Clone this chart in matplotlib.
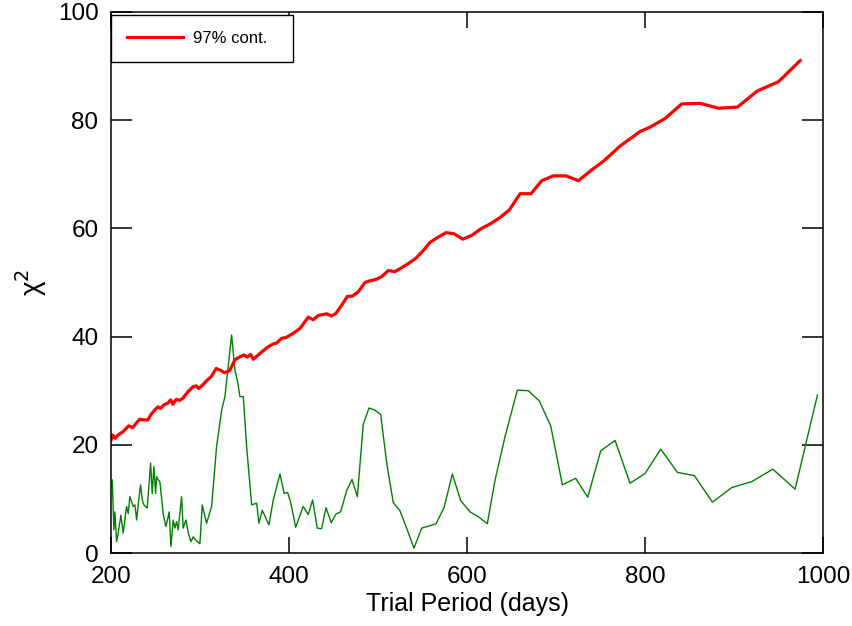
import matplotlib
matplotlib.use('Agg')
import matplotlib.pyplot as plt

plt.rcParams['font.family'] = ['Liberation Sans', 'DejaVu Sans']

# green curve: chi^2 vs trial period
x_green = [201.5, 203.4, 204.5, 206.4, 208.2, 211.2, 213.8, 217.6, 219.5, 221.3,
           223.2, 225, 227, 228.9, 230.7, 233.3, 235.2, 237.1, 239, 240.8,
           244.6, 246.4, 248.3, 250.2, 251.3, 253.2, 255, 258.8, 261.8, 265.5,
           267.4, 270, 271.9, 273.8, 275.6, 279.4, 281.2, 284.3, 286.9, 289.9,
           292.5, 295.2, 300, 302.6, 307.5, 313.1, 318.7, 324.4, 328.1, 335.6,
           339.3, 342.3, 344.9, 348.7, 352.5, 358.1, 363.7, 366.3, 370, 377.5,
           382.4, 389.9, 394.7, 398.5, 402.2, 407.5, 416, 421.7, 426.6, 431.8,
           436.7, 441.6, 447.5, 452.8, 458, 464.8, 470.8, 476.8, 483.5, 489.9,
           496.6, 503, 509.8, 517.2, 524.7, 532.2, 540.4, 549.1, 565.2, 574.2,
           583.5, 592.9, 603.4, 612.7, 622.8, 631.5, 642.7, 656.5, 668.9, 681.2,
           694, 707.1, 722.1, 735.6, 750.2, 766.3, 783.1, 800, 817.6, 836.3,
           855.4, 875.6, 897.4, 919.9, 943.5, 968.5, 993.6]
y_green = [13.5, 4.3, 7.6, 2.1, 3.7, 7, 3.7, 8.6, 7.3, 10.4,
           9.5, 8.6, 8.9, 6.1, 8.9, 12.6, 9.8, 8.9, 8.6, 8.3,
           16.6, 11, 16, 11, 14.1, 13.5, 13.2, 7.2, 4.9, 7.6,
           1.2, 6.1, 4.6, 5.8, 4.3, 10.4, 4.6, 6.1, 3.7, 2.1,
           3.0, 2.4, 1.7, 8.9, 5.5, 8.6, 19.6, 26.4, 28.9, 40.3,
           33.8, 31.7, 28.9, 28.9, 19.6, 8.9, 9.2, 5.5, 7.9, 5.2,
           9.8, 14.6, 11, 11.2, 9.2, 4.75, 8.6, 7.1, 9.8, 4.6,
           4.5, 8.4, 5.6, 7.2, 7.6, 11.5, 13.6, 10.4, 23.8, 26.8,
           26.4, 25.6, 16.6, 9.3, 7.8, 4.6, 0.9, 4.6, 5.4, 8.4,
           14.6, 9.7, 7.6, 6.7, 5.4, 13.5, 21.5, 30.1, 30, 28.1,
           23.5, 12.6, 13.8, 10.3, 18.9, 20.8, 12.9, 14.7, 19.2, 14.9,
           14.3, 9.4, 12.1, 13.2, 15.5, 11.8, 29.2]

# red curve: 97% confidence level
x_red = [200.3, 202.2, 204.8, 207.9, 213.5, 219.9, 224.7, 228.4, 232.2, 237.1,
         241.6, 244.6, 249.1, 252.8, 255.8, 259.6, 264, 267.1, 269.7, 273.4,
         277.2, 280.9, 286.5, 292.1, 295.8, 298.5, 303.4, 307.1, 312.7, 318.3,
         323.9, 327.8, 333.4, 339.3, 344.2, 349.4, 353.1, 357, 359.9, 365.5,
         371.1, 376.7, 381.7, 386.2, 391.8, 396.6, 404.8, 412.4, 421.7, 427.3,
         432.9, 442.4, 448, 452.8, 459.2, 465.5, 471.6, 477.9, 485.4, 491,
         498.5, 504.2, 511.6, 519.1, 528.4, 536, 542.7, 550.9, 558.4, 567.8,
         576.4, 585.4, 595.2, 605.3, 615.4, 625.8, 637.1, 647.5, 659.6, 671.9,
         683.9, 697, 711.2, 725.1, 740.1, 753.9, 771.9, 794.4, 805.6, 822.5,
         841.2, 861.8, 882.4, 903.7, 926.2, 949.8, 974.2]
y_red = [20.9, 21.8, 21.2, 21.8, 22.4, 23.5, 23.2, 24, 24.7, 24.6,
         24.6, 25.5, 26.4, 27, 26.7, 27.4, 27.7, 28.3, 27.5, 28.4,
         28.2, 28.6, 29.8, 30.7, 30.9, 30.4, 31.1, 31.8, 32.6, 34.1,
         33.7, 33.3, 33.7, 35.7, 36.2, 36.6, 36.2, 36.7, 35.8, 36.6,
         37.4, 38.1, 38.6, 38.8, 39.7, 39.8, 40.6, 41.5, 43.6, 43.1,
         43.9, 44.2, 43.8, 44.3, 45.8, 47.4, 47.5, 48.3, 50, 50.3,
         50.6, 51.1, 52.2, 52, 52.9, 53.7, 54.5, 55.9, 57.4, 58.4,
         59.2, 59, 58, 58.7, 59.9, 60.8, 62, 63.4, 66.4, 66.4,
         68.8, 69.7, 69.7, 68.8, 70.8, 72.5, 75.2, 77.9, 78.7, 80.3,
         83, 83.1, 82.2, 82.4, 85.4, 87.1, 91]

x_ticks = [200, 400, 600, 800, 1000]
y_ticks = [0, 20, 40, 60, 80, 100]

fig = plt.figure(figsize=(8.53, 6.26), dpi=100)
ax = fig.add_axes([0.130, 0.1166, 0.835, 0.8644])

ax.plot(x_green, y_green, color='#008000', lw=1.0)
ax.plot(x_red, y_red, color='#ff0000', lw=2.3, label='97% cont.')

ax.set_xlim(200, 1000)
ax.set_ylim(0, 100)
ax.set_xticks(x_ticks)
ax.set_yticks(y_ticks)
ax.tick_params(axis='both', direction='in', top=True, right=True,
               labelsize=17.5, width=1.1, pad=9)
ax.tick_params(axis='y', length=15)
ax.tick_params(axis='x', length=11.5)
for s in ax.spines.values():
    s.set_linewidth(1.1)

ax.set_xlabel('Trial Period (days)', fontsize=18, labelpad=3)
ax.set_ylabel('χ$^2$', fontsize=20, labelpad=6)

# legend box is wider than its content in the original
leg = ax.legend(loc='upper left', bbox_to_anchor=(0.0, 0.9945, 0.2556, 0.0),
                mode='expand', fontsize=12, fancybox=False, framealpha=1,
                edgecolor='black', borderaxespad=0, handlelength=3.4,
                borderpad=0.95, handletextpad=0.6)
leg.get_frame().set_linewidth(1.0)

fig.savefig('out.png', dpi=100)
